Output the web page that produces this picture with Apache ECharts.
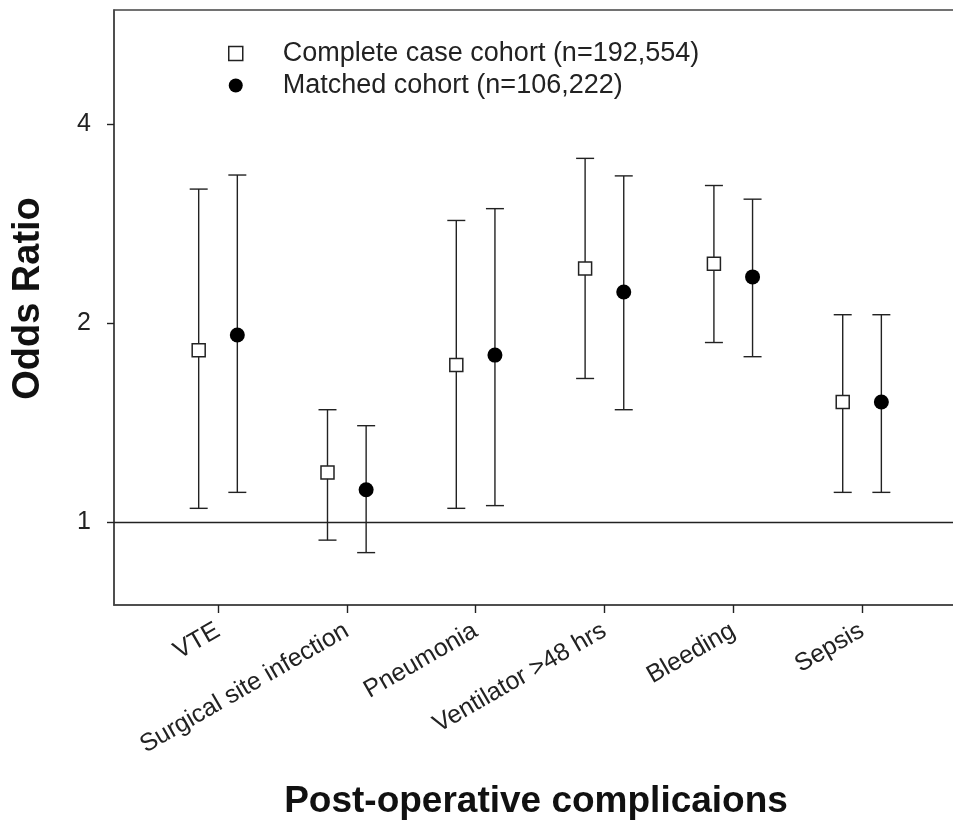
<!DOCTYPE html>
<html>
<head>
<meta charset="utf-8">
<script src="https://cdn.jsdelivr.net/npm/echarts@6/dist/echarts.min.js"></script>
<style>html,body{margin:0;padding:0;background:#fff;}#c{width:953px;height:823px;}</style>
</head>
<body>
<div id="c"></div>
<script>
const categories = ['VTE', 'Surgical site infection', 'Pneumonia', 'Ventilator >48 hrs', 'Bleeding', 'Sepsis'];
const completeOR   = [1.82, 1.19, 1.73, 2.42, 2.46, 1.52];
const completeLow  = [1.05, 0.94, 1.05, 1.65, 1.87, 1.11];
const completeHigh = [3.19, 1.48, 2.86, 3.55, 3.23, 2.06];
const matchedOR    = [1.92, 1.12, 1.79, 2.23, 2.35, 1.52];
const matchedLow   = [1.11, 0.90, 1.06, 1.48, 1.78, 1.11];
const matchedHigh  = [3.35, 1.40, 2.98, 3.34, 3.08, 2.06];
const yTicks = [1, 2, 4];
const seriesNames = ['Complete case cohort (n=192,554)', 'Matched cohort (n=106,222)'];

const FONT = '"Liberation Sans", Arial, sans-serif';
const INK = '#222';

function buildData(or, lo, hi) {
  return categories.map((c, i) => [i + 1, or[i], lo[i], hi[i]]);
}

function makeRender(dx, shape) {
  return function (params, api) {
    const x = api.value(0) + dx;
    const c = api.coord([x, api.value(1)]);
    const lo = api.coord([x, api.value(2)]);
    const hi = api.coord([x, api.value(3)]);
    const cap = 9;
    const ls = { stroke: INK, lineWidth: 1.4 };
    const children = [
      { type: 'line', shape: { x1: c[0], y1: hi[1], x2: c[0], y2: lo[1] }, style: ls },
      { type: 'line', shape: { x1: c[0] - cap, y1: hi[1], x2: c[0] + cap, y2: hi[1] }, style: ls },
      { type: 'line', shape: { x1: c[0] - cap, y1: lo[1], x2: c[0] + cap, y2: lo[1] }, style: ls }
    ];
    if (shape === 'square') {
      children.push({ type: 'rect', shape: { x: c[0] - 6.5, y: c[1] - 6.5, width: 13, height: 13 },
        style: { fill: '#fff', stroke: INK, lineWidth: 1.5 } });
    } else {
      children.push({ type: 'circle', shape: { cx: c[0], cy: c[1], r: 7.5 }, style: { fill: '#000' } });
    }
    return { type: 'group', children: children };
  };
}

const chart = echarts.init(document.getElementById('c'), null, { renderer: 'canvas' });
chart.setOption({
  animation: false,
  backgroundColor: '#fff',
  textStyle: { fontFamily: FONT },
  grid: { left: 114, right: -5, top: 10, bottom: 218, show: true, borderColor: '#444', borderWidth: 1.5,
    outerBoundsMode: 'none', containLabel: false },
  legend: {
    orient: 'vertical', left: 228, top: 40, padding: 0, itemGap: 5,
    itemWidth: 14, itemHeight: 14,
    textStyle: { fontFamily: FONT, fontSize: 27, color: INK, padding: [0, 0, 0, 35] },
    selectedMode: false,
    data: [
      { name: seriesNames[0], icon: 'rect', itemStyle: { color: '#fff', borderColor: INK, borderWidth: 1.5 } },
      { name: seriesNames[1], icon: 'circle', itemStyle: { color: '#000', borderWidth: 0 } }
    ]
  },
  xAxis: {
    type: 'value', min: 0.1925, max: 6.745,
    name: 'Post-operative complicaions', nameLocation: 'middle', nameGap: 178,
    nameTextStyle: { fontFamily: FONT, fontSize: 37, fontWeight: 'bold', color: '#111' },
    axisLine: { onZero: false, lineStyle: { color: '#444', width: 1.5 } },
    axisTick: { length: 8, lineStyle: { color: INK, width: 1.4 }, customValues: [1, 2, 3, 4, 5, 6] },
    axisLabel: {
      customValues: [1, 2, 3, 4, 5, 6], rotate: 30, margin: 24, fontSize: 25, color: INK, fontFamily: FONT,
      formatter: v => categories[Math.round(v) - 1]
    },
    splitLine: { show: false }
  },
  yAxis: {
    type: 'log', logBase: 2, min: 0.75, max: 5.95,
    name: 'Odds Ratio', nameLocation: 'middle', nameGap: 66, nameRotate: 90,
    nameTextStyle: { fontFamily: FONT, fontSize: 38, fontWeight: 'bold', color: '#111', padding: [0, 0, 0, 18] },
    axisLine: { show: true, lineStyle: { color: '#444', width: 1.5 } },
    axisTick: { length: 7, lineStyle: { color: INK, width: 1.4 }, customValues: yTicks },
    axisLabel: { customValues: yTicks, fontSize: 25, color: INK, margin: 23, fontFamily: FONT,
      formatter: v => String(v) },
    splitLine: { show: false }
  },
  series: [
    {
      name: seriesNames[0], type: 'custom', renderItem: makeRender(-0.15, 'square'),
      encode: { x: 0, y: [1, 2, 3] }, data: buildData(completeOR, completeLow, completeHigh),
      itemStyle: { color: '#fff', borderColor: INK },
      markLine: {
        silent: true, symbol: 'none', label: { show: false },
        lineStyle: { color: INK, width: 1.4, type: 'solid' },
        data: [{ yAxis: 1 }]
      },
      z: 3
    },
    {
      name: seriesNames[1], type: 'custom', renderItem: makeRender(0.15, 'circle'),
      encode: { x: 0, y: [1, 2, 3] }, data: buildData(matchedOR, matchedLow, matchedHigh),
      itemStyle: { color: '#000' },
      z: 3
    }
  ]
});
</script>
</body>
</html>
